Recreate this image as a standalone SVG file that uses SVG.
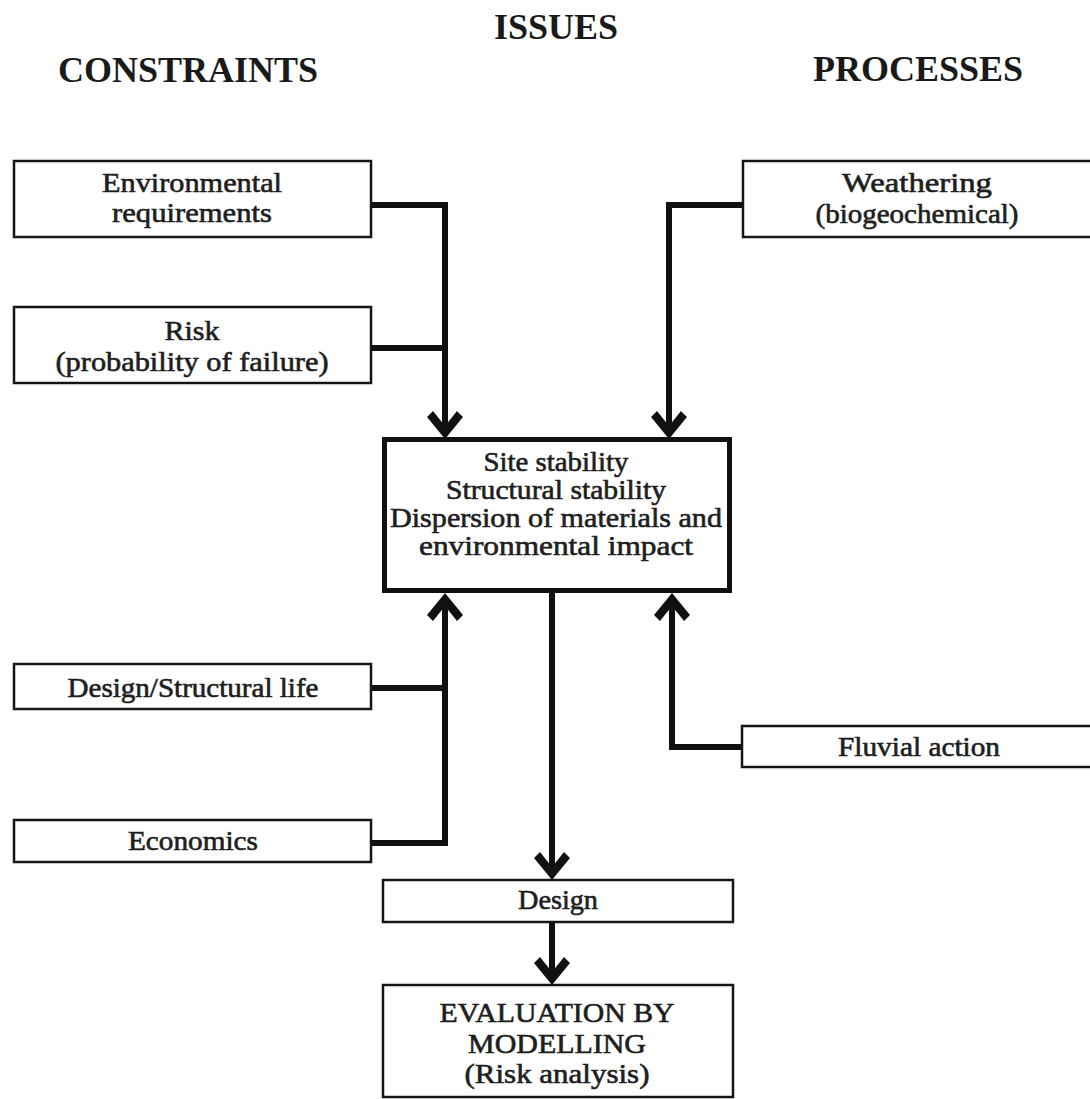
<svg xmlns="http://www.w3.org/2000/svg" width="1090" height="1099" viewBox="0 0 1090 1099">
<defs>
<style>
.title{font-family:"Liberation Serif","Times New Roman",serif;font-weight:bold;font-size:36px;fill:#1a1a1a;text-anchor:middle}
.t{font-family:"Liberation Serif","Times New Roman",serif;font-size:27px;fill:#1e1e1e;stroke:#1e1e1e;stroke-width:0.6;text-anchor:middle}
.box{fill:#fff;stroke:#151515;stroke-width:2.5}
.main{fill:#fff;stroke:#111;stroke-width:5}
.con{fill:none;stroke:#111;stroke-width:6;stroke-linejoin:miter}
.ah{fill:#111}
</style>
<path id="arrow" d="M0,0 L-18,-22 L-12,-28 L0,-13 L12,-28 L18,-22 Z"/>
</defs>
<rect width="1090" height="1099" fill="#fff"/>

<g id="titles">
<text class="title" x="556" y="39">ISSUES</text>
<text class="title" x="188" y="82">CONSTRAINTS</text>
<text class="title" x="918" y="81">PROCESSES</text>
</g>

<g id="connectors">
<path class="con" d="M370,205 H445 V428"/>
<path class="con" d="M370,348 H445"/>
<path class="con" d="M743,205 H669 V428"/>
<path class="con" d="M372,843 H445 V604"/>
<path class="con" d="M372,688 H445"/>
<path class="con" d="M742,747 H672 V604"/>
<path class="con" d="M552,592 V870"/>
<path class="con" d="M552,922 V975"/>
<use href="#arrow" class="ah" transform="translate(445,439)"/>
<use href="#arrow" class="ah" transform="translate(669,439)"/>
<use href="#arrow" class="ah" transform="translate(445,593) rotate(180)"/>
<use href="#arrow" class="ah" transform="translate(672,593) rotate(180)"/>
<use href="#arrow" class="ah" transform="translate(552,880)"/>
<use href="#arrow" class="ah" transform="translate(552,985)"/>
</g>

<g id="env">
<rect class="box" x="14" y="161" width="357" height="76"/>
<text class="t" x="192" y="192" textLength="180" lengthAdjust="spacingAndGlyphs">Environmental</text>
<text class="t" x="192" y="222" textLength="160" lengthAdjust="spacingAndGlyphs">requirements</text>
</g>

<g id="risk">
<rect class="box" x="14" y="307" width="357" height="76"/>
<text class="t" x="192" y="340" textLength="55" lengthAdjust="spacingAndGlyphs">Risk</text>
<text class="t" x="192" y="371" textLength="273" lengthAdjust="spacingAndGlyphs">(probability of failure)</text>
</g>

<g id="weathering">
<rect class="box" x="743" y="161" width="352" height="76"/>
<text class="t" x="917" y="192" textLength="150" lengthAdjust="spacingAndGlyphs">Weathering</text>
<text class="t" x="917" y="223" textLength="203" lengthAdjust="spacingAndGlyphs">(biogeochemical)</text>
</g>

<g id="issues">
<rect class="main" x="384.5" y="439.5" width="345" height="151"/>
<text class="t" x="556" y="471" textLength="145" lengthAdjust="spacingAndGlyphs">Site stability</text>
<text class="t" x="556" y="499" textLength="220" lengthAdjust="spacingAndGlyphs">Structural stability</text>
<text class="t" x="556" y="527" textLength="332" lengthAdjust="spacingAndGlyphs">Dispersion of materials and</text>
<text class="t" x="556" y="555" textLength="274" lengthAdjust="spacingAndGlyphs">environmental impact</text>
</g>

<g id="design-life">
<rect class="box" x="14" y="664" width="357" height="45"/>
<text class="t" x="193" y="697" textLength="251" lengthAdjust="spacingAndGlyphs">Design/Structural life</text>
</g>

<g id="economics">
<rect class="box" x="14" y="820" width="357" height="42"/>
<text class="t" x="193" y="850" textLength="130" lengthAdjust="spacingAndGlyphs">Economics</text>
</g>

<g id="fluvial">
<rect class="box" x="742" y="726" width="353" height="41"/>
<text class="t" x="919" y="756" textLength="162" lengthAdjust="spacingAndGlyphs">Fluvial action</text>
</g>

<g id="design">
<rect class="box" x="383" y="880" width="350" height="42"/>
<text class="t" x="558" y="909" textLength="80" lengthAdjust="spacingAndGlyphs">Design</text>
</g>

<g id="evaluation">
<rect class="box" x="383" y="985" width="350" height="112"/>
<text class="t" x="557" y="1022" textLength="235" lengthAdjust="spacingAndGlyphs">EVALUATION BY</text>
<text class="t" x="557" y="1053" textLength="178" lengthAdjust="spacingAndGlyphs">MODELLING</text>
<text class="t" x="557" y="1083" textLength="185" lengthAdjust="spacingAndGlyphs">(Risk analysis)</text>
</g>
</svg>
